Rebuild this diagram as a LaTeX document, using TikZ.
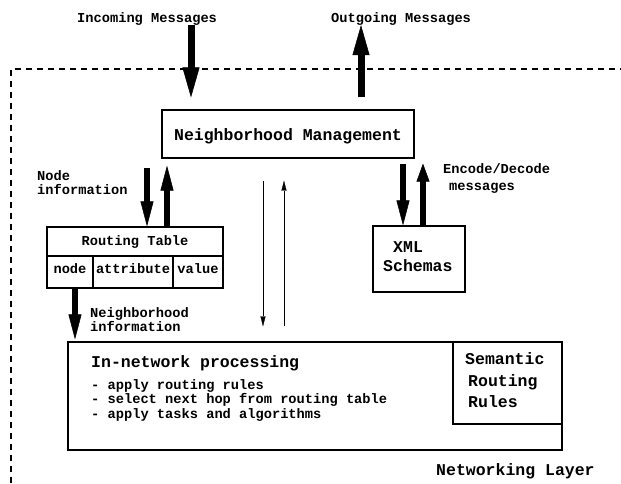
\documentclass[tikz,border=0pt]{standalone}
\usepackage{fontspec}
\setmainfont{Liberation Mono}
\usetikzlibrary{arrows.meta}
\newcommand{\fsmall}{\fontsize{13.7}{14}\selectfont\bfseries}
\newcommand{\flarge}{\fontsize{16.5}{18}\selectfont\bfseries}
\begin{document}
\begin{tikzpicture}[x=1pt,y=-1pt,
  box/.style={draw, line width=1.2pt, inner sep=0pt, rectangle},
  stxt/.style={font=\fsmall, inner sep=0pt},
  ltxt/.style={font=\flarge, inner sep=0pt},
  bigarrow/.style={line width=7pt, -{Triangle[length=30pt,width=17pt,line width=0.5pt]}},
  midarrow/.style={line width=6pt, -{Triangle[length=25pt,width=13pt,line width=0.5pt]}},
  shortarrow/.style={line width=6pt, -{Triangle[length=18pt,width=13pt,line width=0.5pt]}},
  thinarrow/.style={line width=1pt, -{Triangle[length=10pt,width=5pt,line width=0.3pt]}},
  layerframe/.style={line width=1.2pt, dash pattern=on 6pt off 5pt}
]
\useasboundingbox (0,0) rectangle (621,483);

% dashed layer frame
\draw[layerframe] (11,483) -- (11,69) -- (621,69);

% columns for arrows
\coordinate (xin) at (191,0);
\coordinate (xout) at (361,0);
\coordinate (xa) at (147,0);
\coordinate (xb) at (167,0);
\coordinate (xc) at (403,0);
\coordinate (xd) at (423,0);
\coordinate (xe) at (75,0);
\coordinate (xf) at (263,0);
\coordinate (xg) at (284,0);

% texts at top
\node[stxt, anchor=base west] (inc) at (77,22) {Incoming Messages};
\node[stxt, anchor=base west] (outg) at (331,22) {Outgoing Messages};

% Neighborhood management
\node[box, minimum width=252, minimum height=48, font=\flarge, text height=12pt, text depth=0pt] (nm) at (288,134) {Neighborhood Management};

% Node information
\node[stxt, anchor=base west] (ni1) at (37,180) {Node};
\node[stxt, anchor=base west] (ni2) at (37,194) {information};

% Routing table
\node[box, minimum width=176, minimum height=29, font=\fsmall, text height=9pt, text depth=2pt] (rt) at (135,241.5) {Routing Table};
\node[box, minimum width=46, minimum height=32, font=\fsmall, text height=9pt, text depth=7pt] (rtn) at (70,272) {node};
\node[box, minimum width=80, minimum height=32, font=\fsmall, text height=9pt, text depth=7pt] (rta) at (133,272) {attribute};
\node[box, minimum width=50, minimum height=32, font=\fsmall, text height=9pt, text depth=7pt] (rtv) at (198,272) {value};

% Neighborhood information
\node[stxt, anchor=base west] (nbi1) at (90,317) {Neighborhood};
\node[stxt, anchor=base west] (nbi2) at (90,331) {information};

% Encode/Decode
\node[stxt, anchor=base west] (ed1) at (443,173) {Encode/Decode};
\node[stxt, anchor=base west] (ed2) at (449,190) {messages};

% XML Schemas
\node[box, minimum width=92, minimum height=66] (xml) at (419,259) {};
\node[ltxt, anchor=base west] (xmlt1) at (393,252) {XML};
\node[ltxt, anchor=base west] (xmlt2) at (383,271) {Schemas};

% In-network processing
\node[box, minimum width=494, minimum height=108] (inet) at (315,396) {};
\node[box, minimum width=109, minimum height=82] (sem) at (507.5,383) {};
\node[ltxt, anchor=base west] (inett) at (91,367) {In-network processing};
\node[stxt, anchor=base west] (b1) at (91,389) {- apply routing rules};
\node[stxt, anchor=base west] (b2) at (91,403) {- select next hop from routing table};
\node[stxt, anchor=base west] (b3) at (91,418) {- apply tasks and algorithms};
\node[ltxt, anchor=base west] (s1) at (465,364) {Semantic};
\node[ltxt, anchor=base west] (s2) at (468,386) {Routing};
\node[ltxt, anchor=base west] (s3) at (468,407) {Rules};

\node[ltxt, anchor=base west] (nl) at (436,475) {Networking Layer};

% arrows
\draw[bigarrow, shorten >=12pt] (inc.south -| xin) -- (nm.north -| xin);
\draw[bigarrow, shorten <=12pt] (nm.north -| xout) -- (outg.south -| xout);
\draw[midarrow, shorten <=9pt] (nm.south -| xa) -- (rt.north -| xa);
\draw[midarrow, shorten >=7pt] (rt.north -| xb) -- (nm.south -| xb);
\draw[midarrow, shorten <=5pt] (nm.south -| xc) -- (xml.north -| xc);
\draw[shortarrow, shorten >=5pt] (xml.north -| xd) -- (nm.south -| xd);
\draw[midarrow, shorten >=2pt] (rtn.south -| xe) -- (inet.north -| xe);
\draw[thinarrow, shorten <=22pt, shorten >=15pt] (nm.south -| xf) -- (inet.north -| xf);
\draw[thinarrow, shorten <=15pt, shorten >=22pt] (inet.north -| xg) -- (nm.south -| xg);
\end{tikzpicture}
\end{document}
